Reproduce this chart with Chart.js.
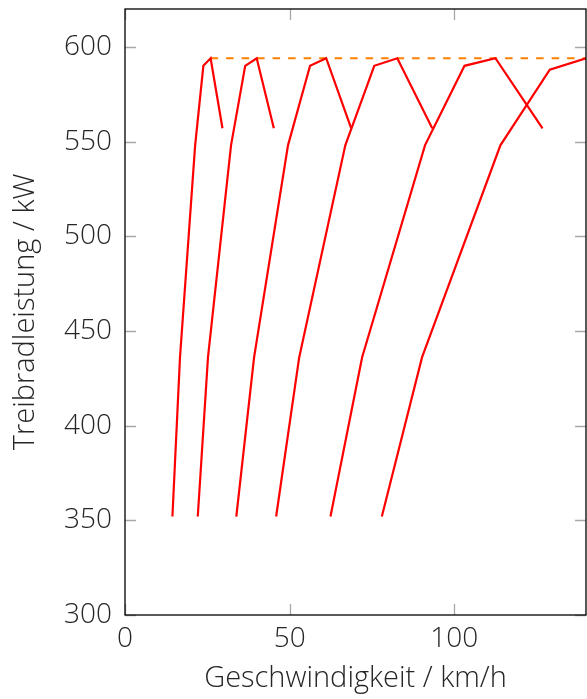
<!DOCTYPE html>
<html>
<head>
<meta charset="utf-8">
<title>Treibradleistung</title>
<script src="https://cdn.jsdelivr.net/npm/chart.js@4.4.1/dist/chart.umd.min.js"></script>
<style>
  html, body { margin: 0; padding: 0; background: #ffffff; }
  #wrap { width: 587px; height: 699px; }
</style>
</head>
<body>
<div id="wrap"><canvas id="c" width="587" height="699"></canvas></div>
<script>
// Speed (km/h) along each gear's power curve
const speedGear1 = [14.4, 16.7, 21.3, 23.8, 26.0, 29.6];
const speedGear2 = [22.1, 25.2, 32.2, 36.5, 40.0, 45.2];
const speedGear3 = [33.8, 39.2, 49.5, 56.2, 61.1, 68.7];
const speedGear4 = [45.9, 52.9, 66.9, 75.7, 82.7, 93.3];
const speedGear5 = [62.4, 72.0, 91.1, 103.1, 112.5, 126.8];
const speedGear6 = [78.0, 90.2, 114.0, 129.0, 140.0];

// Wheel power (kW) at those points
const powerGears1to5 = [352, 436, 548, 590, 594, 557];
const powerGear6 = [352, 436, 548, 588, 594];

// Maximum wheel power line
const maxPowerSpeed = [26.0, 140];
const maxPower = [594, 594];

// Axis ticks
const xTicks = [0, 50, 100];
const yTicks = [300, 350, 400, 450, 500, 550, 600];

const pairs = (xs, ys) => xs.map((x, i) => ({ x: x, y: ys[i] }));

const gearCurves = [
  pairs(speedGear1, powerGears1to5),
  pairs(speedGear2, powerGears1to5),
  pairs(speedGear3, powerGears1to5),
  pairs(speedGear4, powerGears1to5),
  pairs(speedGear5, powerGears1to5),
  pairs(speedGear6, powerGear6)
];

const FONT = "'Open Sans', 'DejaVu Sans', sans-serif";
const TEXT = '#262626';

const datasets = gearCurves.map((pts, i) => ({
  label: 'Gang ' + (i + 1),
  data: pts,
  borderColor: '#ff0000',
  borderWidth: 2.2,
  pointRadius: 0,
  tension: 0,
  fill: false
}));
datasets.push({
  label: 'max',
  data: pairs(maxPowerSpeed, maxPower),
  borderColor: '#ff8000',
  borderWidth: 2.2,
  borderDash: [7.5, 8],
  pointRadius: 0,
  tension: 0,
  fill: false
});

// Frame around the plot area with inward-pointing tick marks on all four sides
const framePlugin = {
  id: 'frame',
  afterDatasetsDraw(chart) {
    const { ctx, chartArea: a, scales: { x, y } } = chart;
    const len = 11;
    ctx.save();
    ctx.strokeStyle = '#a8a8a8';
    ctx.lineWidth = 1.3;
    ctx.beginPath();
    x.ticks.forEach(t => {
      const px = Math.round(x.getPixelForValue(t.value)) + 0.5;
      ctx.moveTo(px, a.bottom); ctx.lineTo(px, a.bottom - len);
      ctx.moveTo(px, a.top); ctx.lineTo(px, a.top + len);
    });
    y.ticks.forEach(t => {
      const py = Math.round(y.getPixelForValue(t.value)) + 0.5;
      ctx.moveTo(a.left, py); ctx.lineTo(a.left + len, py);
      ctx.moveTo(a.right, py); ctx.lineTo(a.right - len, py);
    });
    ctx.stroke();
    ctx.strokeStyle = '#000000';
    ctx.lineWidth = 1.3;
    ctx.strokeRect(a.left, a.top, a.right - a.left, a.bottom - a.top);
    ctx.restore();
  }
};

new Chart(document.getElementById('c'), {
  type: 'line',
  data: { datasets: datasets },
  options: {
    responsive: false,
    devicePixelRatio: 1,
    animation: false,
    events: [],
    layout: { padding: { top: 9, right: 1, left: 0, bottom: 0 } },
    plugins: { legend: { display: false }, tooltip: { enabled: false } },
    scales: {
      x: {
        type: 'linear',
        min: 0,
        max: 140,
        afterBuildTicks(scale) { scale.ticks = xTicks.map(v => ({ value: v })); },
        afterFit(scale) {
          scale.height = 84;
          scale.paddingLeft = 0;
          scale.paddingRight = 0;
        },
        grid: { display: false, drawTicks: false },
        border: { display: false },
        ticks: {
          padding: 7,
          color: TEXT,
          font: { family: FONT, size: 28, weight: '300' },
          maxRotation: 0
        },
        title: {
          display: true,
          text: 'Geschwindigkeit / km/h',
          color: TEXT,
          font: { family: FONT, size: 29, weight: '300' },
          padding: { top: 0, bottom: 2.4 }
        }
      },
      y: {
        type: 'linear',
        min: 300,
        max: 620,
        afterBuildTicks(scale) { scale.ticks = yTicks.map(v => ({ value: v })); },
        afterFit(scale) {
          scale.width = 125;
          scale.paddingTop = 0;
          scale.paddingBottom = 0;
        },
        grid: { display: false, drawTicks: false },
        border: { display: false },
        ticks: {
          padding: 13,
          color: TEXT,
          font: { family: FONT, size: 28, weight: '300' }
        },
        title: {
          display: true,
          text: 'Treibradleistung / kW',
          color: TEXT,
          font: { family: FONT, size: 29, weight: '300' },
          padding: { top: 8.6, bottom: 0 }
        }
      }
    }
  },
  plugins: [framePlugin]
});
</script>
</body>
</html>
